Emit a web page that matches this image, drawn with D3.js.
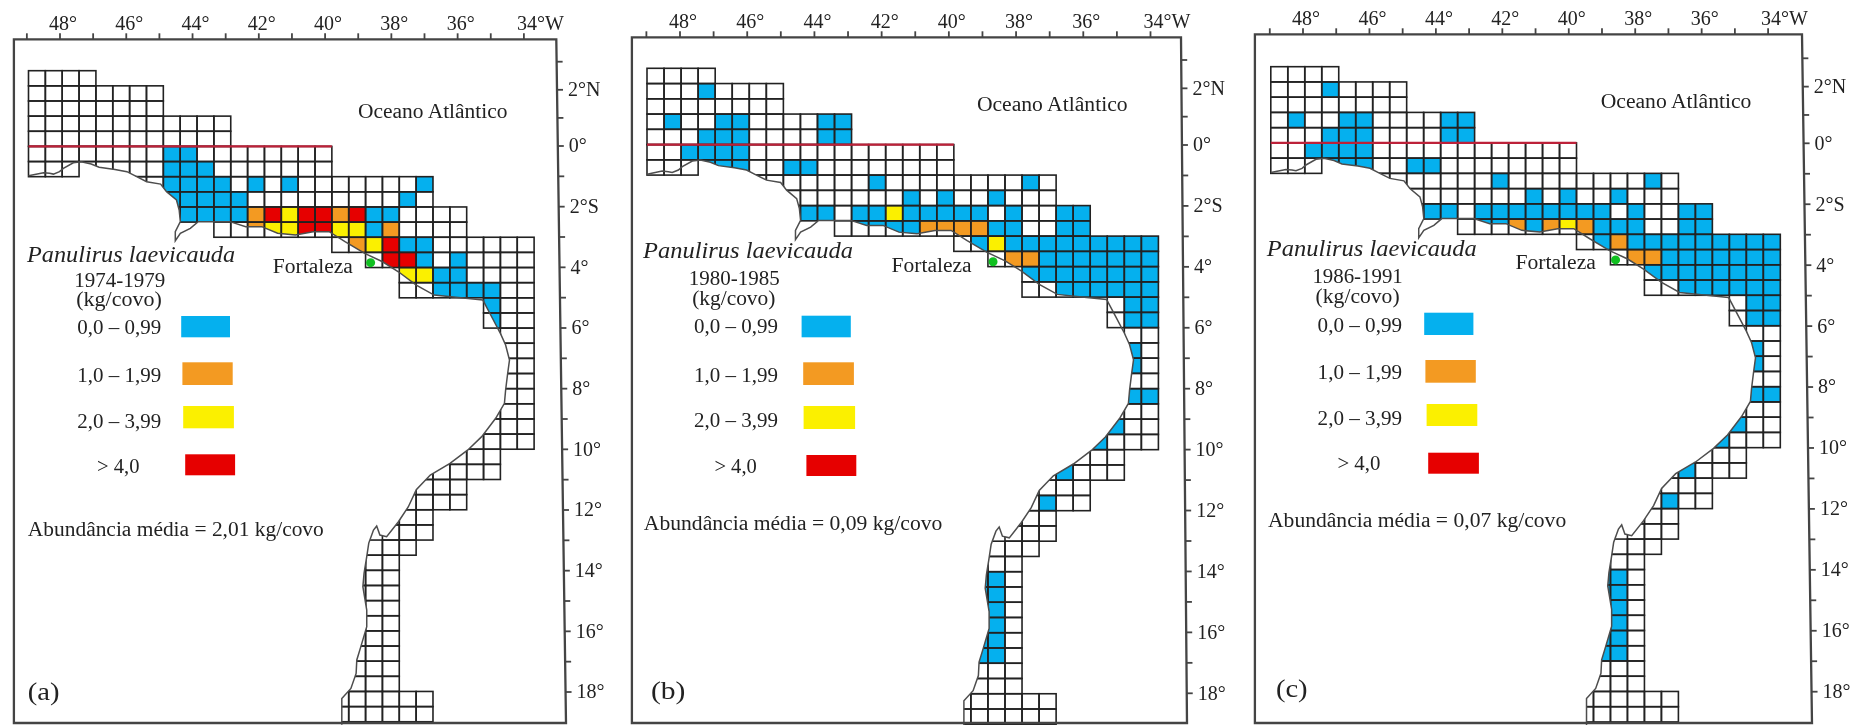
<!DOCTYPE html>
<html>
<head>
<meta charset="utf-8">
<script src="https://cdn.jsdelivr.net/npm/d3@7"></script>
<style>
  body { margin: 0; background: #fff; }
  svg { display: block; filter: blur(0.5px); }
  text { font-family: "Liberation Serif", serif; fill: #222; }
</style>
</head>
<body>
<svg id="chart" width="1865" height="725"></svg>
<script>
// axis ticks, one per degree
const lonTicks = [-49, -48, -47, -46, -45, -44, -43, -42, -41, -40, -39, -38, -37, -36, -35, -34];
const lonLabels = ["", "48°", "", "46°", "", "44°", "", "42°", "", "40°", "", "38°", "", "36°", "", "34°W"];
const latTicks = [3, 2, 1, 0, -1, -2, -3, -4, -5, -6, -7, -8, -9, -10, -11, -12, -13, -14, -15, -16, -17, -18];
const latLabels = ["", "2°N", "", "0°", "", "2°S", "", "4°", "", "6°", "", "8°", "", "10°", "", "12°", "", "14°", "", "16°", "", "18°"];

// legend
const binLabels = ["0,0 – 0,99", "1,0 – 1,99", "2,0 – 3,99", "> 4,0"];
const binColors = ["#05b0ee", "#f39a22", "#fbf000", "#e60000"];

const periods = ["1974-1979", "1980-1985", "1986-1991"];
const meanAbundance = ["2,01", "0,09", "0,07"];
const panelTags = ["(a)", "(b)", "(c)"];

// half degree squares of the survey: [row, first column, last column]
const boxedRows = [[0, 0, 3], [1, 0, 7], [2, 0, 7], [3, 0, 11], [4, 0, 11], [5, 0, 17], [6, 0, 2],
  [10, 11, 25], [11, 18, 29], [12, 20, 29], [13, 22, 29], [14, 22, 29], [15, 27, 29], [16, 27, 29]];
// these ones stop at the coast
const coastRows = [[6, 3, 17], [7, 6, 23], [8, 8, 23], [9, 8, 25], [17, 28, 29], [18, 28, 29], [19, 28, 29],
  [20, 28, 29], [21, 28, 29], [22, 27, 29], [23, 26, 29], [24, 26, 29], [25, 25, 27], [26, 23, 27],
  [27, 23, 25], [28, 22, 25], [29, 21, 23], [30, 21, 23], [31, 20, 22], [32, 19, 21], [33, 19, 21],
  [34, 19, 21], [35, 19, 21], [36, 19, 21], [37, 19, 21], [38, 19, 21], [39, 19, 21], [40, 19, 21],
  [41, 18, 23], [42, 18, 23]];

// catch per period: [row, first column, last column, legend bin]
const cells1974 = [[5, 8, 9, 0], [6, 8, 10, 0], [7, 8, 11, 0], [7, 13, 13, 0], [7, 15, 15, 0], [7, 23, 23, 0],
  [8, 8, 12, 0], [8, 22, 22, 0], [9, 9, 12, 0], [9, 13, 13, 1], [9, 14, 14, 3], [9, 15, 15, 2], [9, 16, 17, 3],
  [9, 18, 18, 1], [9, 19, 19, 3], [9, 20, 21, 0], [10, 13, 13, 1], [10, 14, 15, 2], [10, 16, 17, 3],
  [10, 18, 19, 2], [10, 20, 20, 0], [10, 21, 21, 1], [11, 19, 19, 1], [11, 20, 20, 2], [11, 21, 21, 3],
  [11, 22, 23, 0], [12, 21, 22, 3], [12, 23, 23, 0], [12, 25, 25, 0], [13, 22, 23, 2], [13, 24, 25, 0],
  [14, 24, 27, 0], [15, 27, 27, 0], [16, 27, 27, 0]];

const cells1980 = [[1, 3, 3, 0], [3, 1, 1, 0], [3, 4, 5, 0], [3, 10, 11, 0], [4, 3, 5, 0], [4, 10, 11, 0],
  [5, 2, 5, 0], [6, 3, 5, 0], [6, 8, 9, 0], [7, 13, 13, 0], [7, 22, 22, 0], [8, 15, 15, 0], [8, 17, 17, 0],
  [8, 20, 20, 0], [9, 9, 10, 0], [9, 12, 13, 0], [9, 14, 14, 2], [9, 15, 19, 0], [9, 21, 21, 0], [9, 24, 25, 0],
  [10, 12, 15, 0], [10, 16, 19, 1], [10, 20, 21, 0], [10, 24, 25, 0], [11, 19, 19, 0], [11, 20, 20, 2],
  [11, 21, 29, 0], [12, 21, 22, 1], [12, 23, 29, 0], [13, 22, 29, 0], [14, 24, 29, 0], [15, 28, 29, 0],
  [16, 28, 29, 0], [18, 28, 28, 0], [19, 28, 28, 0], [21, 28, 29, 0], [23, 27, 27, 0], [24, 26, 26, 0],
  [26, 24, 24, 0], [28, 23, 23, 0], [33, 19, 20, 0], [34, 19, 20, 0], [35, 19, 20, 0], [36, 19, 20, 0],
  [37, 19, 20, 0], [38, 19, 20, 0]];

const cells1986 = [[1, 3, 3, 0], [3, 1, 1, 0], [3, 4, 5, 0], [3, 10, 11, 0], [4, 3, 5, 0], [4, 10, 11, 0],
  [5, 2, 5, 0], [6, 3, 5, 0], [6, 8, 9, 0], [7, 13, 13, 0], [7, 22, 22, 0], [8, 15, 15, 0], [8, 17, 17, 0],
  [8, 20, 20, 0], [9, 9, 10, 0], [9, 12, 19, 0], [9, 21, 21, 0], [9, 24, 25, 0], [10, 12, 13, 0], [10, 14, 14, 1],
  [10, 15, 15, 0], [10, 16, 16, 1], [10, 17, 17, 2], [10, 18, 18, 1], [10, 19, 21, 0], [10, 24, 25, 0],
  [11, 19, 19, 0], [11, 20, 20, 1], [11, 21, 29, 0], [12, 21, 22, 1], [12, 23, 29, 0], [13, 22, 29, 0],
  [14, 24, 29, 0], [15, 28, 29, 0], [16, 28, 29, 0], [18, 28, 28, 0], [19, 28, 28, 0], [21, 28, 29, 0],
  [23, 27, 27, 0], [24, 26, 26, 0], [26, 24, 24, 0], [28, 23, 23, 0], [33, 19, 20, 0], [34, 19, 20, 0],
  [35, 19, 20, 0], [36, 19, 20, 0], [37, 19, 20, 0], [38, 19, 20, 0]];

// coastline in grid units: [column, row]
const coastline = [[0, 6.94], [0.89, 6.74], [1.25, 6.78], [1.48, 6.83], [1.84, 6.67], [2.07, 6.45], [2.66, 6.08],
  [3.13, 6.01], [3.72, 6.16], [4.19, 6.38], [5.13, 6.52], [5.84, 6.67], [6.42, 7], [7.01, 7.33], [7.84, 7.49],
  [8.19, 7.99], [8.78, 8.54], [8.94, 9.2], [9.01, 9.97], [8.71, 10.63], [8.71, 11.23], [9.01, 10.74], [9.6, 10.41],
  [10.07, 9.97], [10.78, 9.97], [11.95, 9.97], [12.89, 10.3], [13.84, 10.3], [14.78, 10.74], [15.84, 10.85],
  [16.89, 10.63], [17.84, 10.63], [18.78, 11.29], [19.95, 12.07], [21.01, 12.62], [21.95, 13.28], [23.01, 14.16],
  [24.07, 14.82], [25.36, 14.97], [26.96, 15.15], [27.48, 16.25], [28, 17.35], [28.31, 18.12], [28.54, 19.11],
  [28.42, 20.1], [28.31, 21.09], [28.24, 21.97], [27.72, 22.96], [26.89, 24.17], [26.07, 25.05], [25.01, 25.94],
  [23.84, 26.71], [23.01, 27.68], [22.54, 28.8], [21.95, 29.79], [21.25, 30.78], [20.85, 30.67], [20.66, 30.07],
  [20.47, 30.34], [20.19, 31.2], [20.07, 32.1], [19.91, 33.2], [19.84, 34.08], [20.07, 35.62], [20.07, 36.72],
  [19.72, 38.04], [19.48, 38.92], [19.44, 39.81], [19.13, 40.8], [18.59, 41.46], [18.59, 43.2]];
const oceanEdge = [[45, 43.2], [45, -3], [-3, -3], [-3, 6.94]];
const fortaleza = [20.3, 12.68];

// where each panel sits on the page, the scanned panels are not quite aligned
const layouts = [
  {
    frame: { left: 13.9, right: 556.3, rightBottom: 566, top: 39.3, bottom: 723 },
    grid: { left: 28.5, right: 534.1, top: 70.7, bottom: 706.6 },
    lon: [59.5, 523.4], lat: [61.7, 146, 692],
    ocean: [358, 149.5, 118], species: [27, 208, 261.7], period: [119.7, 91, 287], unit: [119, 85.6, 306],
    city: [272.8, 80, 272.7], mean: [27.8, 296, 535.7], tag: [27.8, 31.7, 700],
    labelX: [77.3, 77.3, 77.3, 97.1], labelW: [84, 84, 84, 42.4], labelY: [334, 381.7, 427.7, 473],
    swatch: [[181.2, 230, 316, 337.3], [182.4, 232.7, 362.3, 385], [183.2, 233.9, 406, 428.3], [185.2, 235.1, 454.3, 475.3]]
  },
  {
    frame: { left: 631.9, right: 1181, rightBottom: 1187, top: 37.3, bottom: 723 },
    grid: { left: 647, right: 1158.4, top: 68.3, bottom: 709 },
    lon: [679.5, 1150], lat: [60, 145, 693.3],
    ocean: [976.9, 150.7, 110.7], species: [643, 210, 258], period: [734.2, 91, 285], unit: [733.8, 83.3, 305],
    city: [891.6, 80, 271.7], mean: [643.8, 298.6, 530], tag: [650.9, 34.5, 699.3],
    labelX: [694.1, 694.1, 694.1, 714.4], labelW: [84, 84, 84, 42.4], labelY: [333.3, 381.7, 427, 473.3],
    swatch: [[801.6, 850.8, 315.7, 337.3], [803.2, 853.9, 362.3, 385], [803.6, 855.1, 406, 429], [806.4, 856.3, 455, 476]]
  },
  {
    frame: { left: 1254.9, right: 1802, rightBottom: 1812, top: 34.3, bottom: 723 },
    grid: { left: 1270.8, right: 1780.3, top: 66.7, bottom: 706.7 },
    lon: [1302.5, 1767.6], lat: [58.3, 143.3, 691.7],
    ocean: [1600.7, 150.7, 108], species: [1266.8, 210, 256], period: [1357.6, 90.4, 283.3], unit: [1357.6, 84, 303],
    city: [1515.4, 80.5, 269.3], mean: [1268, 298.2, 527.3], tag: [1275.9, 31.7, 697.3],
    labelX: [1317.6, 1317.6, 1317.6, 1337.4], labelW: [84.5, 84.5, 84.5, 43], labelY: [331.7, 379.3, 425, 470],
    swatch: [[1424.2, 1473.4, 312.7, 335], [1425.4, 1475.8, 360, 382.7], [1426.6, 1477.3, 404, 426], [1428.2, 1478.9, 452.7, 473.7]]
  }
];

const periodCells = [cells1974, cells1980, cells1986];
const svg = d3.select("#chart");

// expands [row, first, last, ...] runs into single squares
function expandRuns(runs) {
  const out = [];
  runs.forEach(run => {
    d3.range(run[1], run[2] + 1).forEach(col => out.push({ row: run[0], col: col, bin: run[3] }));
  });
  return out;
}

// text squeezed to the width measured on the scan
function addLabel(g, spec, str, opts) {
  return g.append("text")
    .attr("x", spec[0])
    .attr("y", spec[2])
    .attr("textLength", spec[1])
    .attr("lengthAdjust", "spacingAndGlyphs")
    .attr("font-size", (opts && opts.size) || 20)
    .attr("font-style", opts && opts.italic ? "italic" : null)
    .attr("text-anchor", opts && opts.middle ? "middle" : "start")
    .text(str);
}

function drawPanel(i) {
  const lay = layouts[i];
  const g = svg.append("g").attr("class", "panel");

  const col = d3.scaleLinear().domain([0, 30]).range([lay.grid.left, lay.grid.right]);
  const row = d3.scaleLinear().domain([0, 42]).range([lay.grid.top, lay.grid.bottom]);
  const lon = d3.scaleLinear().domain([-48, -34]).range(lay.lon);
  const lat = d3.scaleLinear().domain([3, 0, -18]).range(lay.lat);
  const frameX = d3.scaleLinear().domain([lay.frame.top, lay.frame.bottom]).range([lay.frame.right, lay.frame.rightBottom]);

  const line = d3.line().x(d => col(d[0])).y(d => row(d[1]));
  const clipId = "ocean-" + i;

  g.append("clipPath").attr("id", clipId)
    .append("path")
    .attr("d", line(coastline.concat(oceanEdge)) + "Z");

  // coloured squares
  g.append("g").attr("clip-path", "url(#" + clipId + ")")
    .selectAll("rect")
    .data(expandRuns(periodCells[i]))
    .join("rect")
    .attr("x", d => col(d.col))
    .attr("y", d => row(d.row))
    .attr("width", col(1) - col(0))
    .attr("height", row(1) - row(0))
    .attr("fill", d => binColors[d.bin]);

  // survey grid
  const drawGrid = (parent, runs) => {
    parent.selectAll("rect")
      .data(expandRuns(runs))
      .join("rect")
      .attr("x", d => col(d.col))
      .attr("y", d => row(d.row))
      .attr("width", col(1) - col(0))
      .attr("height", row(1) - row(0))
      .attr("fill", "none")
      .attr("stroke", "#222")
      .attr("stroke-width", 1.6);
  };
  drawGrid(g.append("g"), boxedRows);
  drawGrid(g.append("g").attr("clip-path", "url(#" + clipId + ")"), coastRows);

  // equator
  g.append("line")
    .attr("x1", col(0)).attr("x2", col(18))
    .attr("y1", row(5)).attr("y2", row(5))
    .attr("stroke", "#bd2139")
    .attr("stroke-width", 2.2);

  g.append("path")
    .attr("d", line(coastline))
    .attr("fill", "none")
    .attr("stroke", "#4d4d4d")
    .attr("stroke-width", 1.5);

  g.append("circle")
    .attr("cx", col(fortaleza[0]))
    .attr("cy", row(fortaleza[1]))
    .attr("r", 4.5)
    .attr("fill", "#10c020");

  // frame
  const f = lay.frame;
  g.append("path")
    .attr("d", "M" + f.left + "," + f.top + "L" + f.right + "," + f.top + "L" + f.rightBottom + "," + f.bottom + "L" + f.left + "," + f.bottom + "Z")
    .attr("fill", "none")
    .attr("stroke", "#444")
    .attr("stroke-width", 2.3);

  // axes
  const topAxis = g.append("g")
    .attr("transform", "translate(0," + f.top + ")")
    .call(d3.axisTop(lon).tickValues(lonTicks).tickSize(6).tickFormat((d, k) => lonLabels[k]));
  topAxis.select(".domain").remove();
  topAxis.selectAll("text").attr("text-anchor", "start").attr("dx", d => d === -34 ? -7 : -11);

  const rightAxis = g.append("g")
    .call(d3.axisRight(lat).tickValues(latTicks).tickSize(6).tickPadding(5).tickFormat((d, k) => latLabels[k]));
  rightAxis.select(".domain").remove();
  // the right edge of the scan leans a little
  rightAxis.selectAll(".tick").attr("transform", d => "translate(" + frameX(lat(d)) + "," + lat(d) + ")");

  g.selectAll(".tick line").attr("stroke", "#444").attr("stroke-width", 1.8);
  g.selectAll(".tick text").attr("font-size", 20).attr("font-family", "Liberation Serif").attr("fill", "#222");

  // labels
  addLabel(g, lay.ocean, "Oceano Atlântico");
  addLabel(g, lay.species, "Panulirus laevicauda", { size: 24, italic: true });
  addLabel(g, lay.period, periods[i], { middle: true });
  addLabel(g, lay.unit, "(kg/covo)", { middle: true });
  addLabel(g, lay.city, "Fortaleza");
  addLabel(g, lay.mean, "Abundância média = " + meanAbundance[i] + " kg/covo");
  addLabel(g, lay.tag, panelTags[i], { size: 25 });

  // legend
  binLabels.forEach((label, k) => {
    addLabel(g, [lay.labelX[k], lay.labelW[k], lay.labelY[k]], label);
    const s = lay.swatch[k];
    g.append("rect")
      .attr("x", s[0]).attr("y", s[2])
      .attr("width", s[1] - s[0]).attr("height", s[3] - s[2])
      .attr("fill", binColors[k]);
  });
}

d3.range(3).forEach(drawPanel);
</script>
</body>
</html>
